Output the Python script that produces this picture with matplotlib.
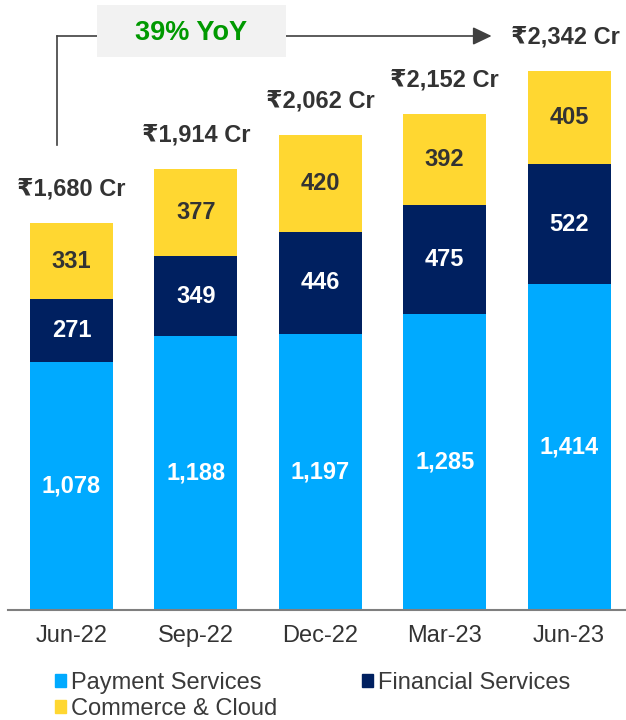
import matplotlib
matplotlib.use("Agg")
import matplotlib.pyplot as plt
from matplotlib.patches import Patch, Rectangle
import numpy as np

categories = ["Jun-22", "Sep-22", "Dec-22", "Mar-23", "Jun-23"]
payment = [1078, 1188, 1197, 1285, 1414]
financial = [271, 349, 446, 475, 522]
commerce = [331, 377, 420, 392, 405]
totals = [1680, 1914, 2062, 2152, 2342]
total_labels = ["₹1,680 Cr", "₹1,914 Cr", "₹2,062 Cr", "₹2,152 Cr", "₹2,342 Cr"]
series_names = ["Payment Services", "Financial Services", "Commerce & Cloud"]
yoy_text = "39% YoY"

c_pay = "#00AAFF"
c_fin = "#002060"
c_com = "#FFD731"
dark = "#333333"

plt.rcParams['font.family'] = ['Liberation Sans', 'DejaVu Sans']

W, H = 626, 720
fig = plt.figure(figsize=(W/100, H/100), dpi=100)
ax_left = 8 / W
ax_bottom = (H - 610) / H
ax = fig.add_axes([ax_left, ax_bottom, 1 - ax_left, 1 - ax_bottom])

x = np.arange(len(categories))
bw = 0.667
pay = np.array(payment)
fin = np.array(financial)
com = np.array(commerce)

ax.bar(x, pay, bw, color=c_pay, label=series_names[0])
ax.bar(x, fin, bw, bottom=pay, color=c_fin, label=series_names[1])
ax.bar(x, com, bw, bottom=pay + fin, color=c_com, label=series_names[2])

for i in range(len(x)):
    ax.text(x[i], pay[i] / 2, f"{payment[i]:,}", ha='center', va='center',
            color='white', fontsize=17, fontweight='bold')
    ax.text(x[i], pay[i] + fin[i] / 2, f"{financial[i]:,}", ha='center', va='center',
            color='white', fontsize=17, fontweight='bold')
    ax.text(x[i], pay[i] + fin[i] + com[i] / 2, f"{commerce[i]:,}", ha='center', va='center',
            color=dark, fontsize=17, fontweight='bold')
    dx = -4 * 0.72 if i == len(x) - 1 else 0
    ax.annotate(total_labels[i], (x[i], totals[i]), xytext=(dx, 34 * 0.72),
                textcoords='offset points', ha='center', va='center',
                color=dark, fontsize=17, fontweight='bold')

px_per_unit = 387 / 1680
ymax = 610 / px_per_unit
ax.set_ylim(0, ymax)
spacing = 124.5
ax.set_xlim(-(71.5 - 8) / spacing, 4 + (626 - 569) / spacing)

for s in ['top', 'right', 'left']:
    ax.spines[s].set_visible(False)
ax.spines['bottom'].set_color('#7F7F7F')
ax.spines['bottom'].set_linewidth(1.5)
ax.set_yticks([])
ax.set_xticks(x)
ax.set_xticklabels(categories, fontsize=17, color=dark)
ax.tick_params(axis='x', length=0, pad=10.5)

# YoY arrow annotation
def px2x(p):
    return (p - 71.5) / spacing
def py2y(p):
    return (610 - p) / px_per_unit

y_line = py2y(36)
ax.plot([px2x(57), px2x(57)], [py2y(145), y_line], color='#404040', lw=1.2,
        solid_capstyle='projecting', clip_on=False, zorder=3)
ax.annotate("", xy=(px2x(492), y_line), xytext=(px2x(57), y_line),
            arrowprops=dict(arrowstyle='-|>,head_length=1.15,head_width=0.55',
                            color='#404040', lw=1.2, shrinkA=0, shrinkB=0),
            zorder=3)
ax.add_patch(Rectangle((px2x(97), py2y(57)), px2x(286) - px2x(97), py2y(5) - py2y(57),
                       facecolor='#F2F2F2', edgecolor='none', clip_on=False, zorder=4))
ax.text(px2x(191.5), py2y(33), yoy_text, ha='center', va='center', color='#009900',
        fontsize=19.5, fontweight='bold', zorder=5)

handles = [Patch(color=c_pay, label=series_names[0]),
           Patch(color=c_com, label=series_names[2]),
           Patch(color=c_fin, label=series_names[1])]
fig.legend(handles=handles, loc='upper left', bbox_to_anchor=(55 / W, 1 - 672 / H),
           ncol=2, frameon=False, fontsize=17, handlelength=0.47, handleheight=0.47,
           handletextpad=0.21, columnspacing=3.6, labelspacing=0.15, borderpad=0,
           borderaxespad=0, labelcolor='#3A3A3A')

fig.savefig("out.png", dpi=100)
